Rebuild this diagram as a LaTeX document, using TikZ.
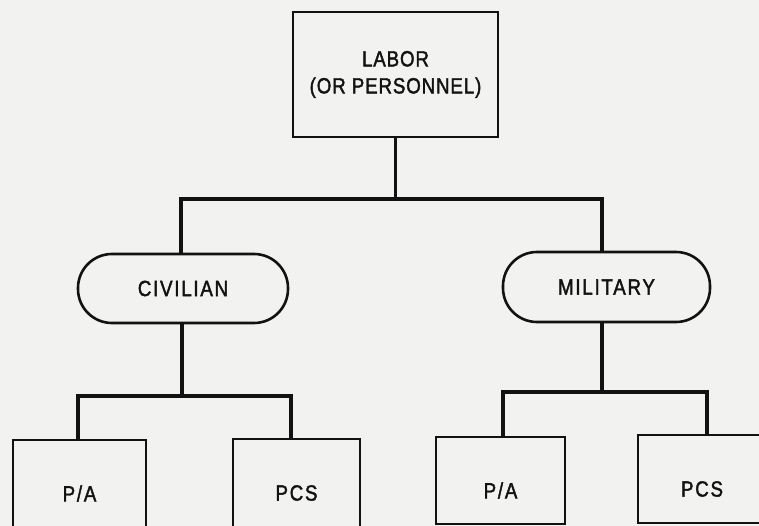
\documentclass[tikz,border=0pt]{standalone}
\usepackage{fontspec}
\setmainfont{Liberation Sans}
\newfontfamily\chartfont[LetterSpace=8, FakeStretch=0.85, FakeBold=1.8]{Liberation Sans}
\newfontfamily\headfont[LetterSpace=4, FakeStretch=0.85, FakeBold=1.8]{Liberation Sans}
\definecolor{paper}{RGB}{242,242,240}
\definecolor{ink}{RGB}{18,18,18}
\begin{document}
\begin{tikzpicture}[x=1pt,y=-1pt,
  every node/.style={font=\chartfont\fontsize{22}{27}\selectfont, text=ink},
  box/.style={draw=ink, line width=2.6pt, rectangle, inner sep=0pt},
  pill/.style={draw=ink, line width=2.6pt, rectangle, rounded corners=34pt, inner sep=0pt},
  conn/.style={draw=ink, line width=3.5pt, line cap=rect}]
  % page and paper tone
  \fill[paper] (0,0) rectangle (759,526);
  \useasboundingbox (0,0) rectangle (759,526);

  % top level
  \node[box, minimum width=205pt, minimum height=125pt, align=center,
        font=\headfont\fontsize{22}{27}\selectfont]
    (labor) at (395.5,74.5) {LABOR\\(OR PERSONNEL)};

  % second level
  \node[pill, minimum width=210pt, minimum height=69pt] (civ) at (183,288.5) {CIVILIAN};
  \node[pill, minimum width=207pt, minimum height=70pt] (mil) at (606.5,287) {MILITARY};

  % third level
  \node[box, minimum width=133pt, minimum height=87pt,
        label={[yshift=-10pt]center:P/A}] (cpa) at (79.5,483.5) {};
  \node[box, minimum width=127pt, minimum height=88pt,
        label={[yshift=-10pt]center:PCS}] (cpcs) at (296.5,483) {};
  \node[box, minimum width=129pt, minimum height=87pt,
        label={[yshift=-10pt]center:P/A}] (mpa) at (500.5,480.5) {};
  \node[box, minimum width=128pt, minimum height=88pt,
        label={[yshift=-10pt]center:PCS}] (mpcs) at (702,479) {};

  % junctions of the trees
  \coordinate (j1) at (395.5,199);
  \coordinate (j2) at (182,396);
  \coordinate (j3) at (602,392);

  % connectors
  \draw[conn] (labor.south) -- (j1);
  \draw[conn] ([xshift=-2pt]civ.north) |- (j1);
  \draw[conn] ([xshift=-4.5pt]mil.north) |- (j1);

  \draw[conn] ([xshift=-1pt]civ.south) -- (j2);
  \draw[conn] ([xshift=-1.5pt]cpa.north) |- (j2);
  \draw[conn] ([xshift=-5.5pt]cpcs.north) |- (j2);

  \draw[conn] ([xshift=-4.5pt]mil.south) -- (j3);
  \draw[conn] ([xshift=2.5pt]mpa.north) |- (j3);
  \draw[conn] ([xshift=5pt]mpcs.north) |- (j3);
\end{tikzpicture}
\end{document}
